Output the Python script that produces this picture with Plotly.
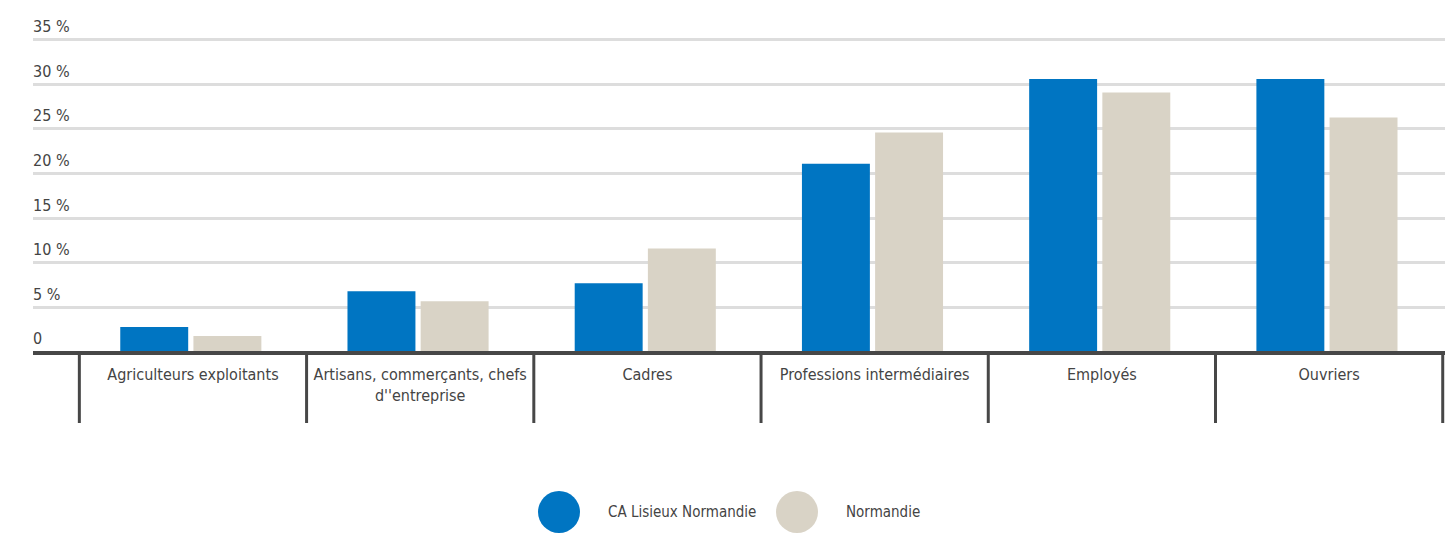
import plotly.graph_objects as go

categories = ["Agriculteurs exploitants", "Artisans, commerçants, chefs<br>d''entreprise", "Cadres",
              "Professions intermédiaires", "Employés", "Ouvriers"]
series_names = ["CA Lisieux Normandie", "Normandie"]
lisieux = [2.8, 6.8, 7.7, 21.1, 30.6, 30.6]
normandie = [1.8, 5.7, 11.6, 24.6, 29.1, 26.3]
y_ticks = [0, 5, 10, 15, 20, 25, 30, 35]
y_tick_labels = ["0", "5 %", "10 %", "15 %", "20 %", "25 %", "30 %", "35 %"]

BLUE = "#0075C2"
BEIGE = "#D9D3C6"
TEXT = "#444444"
FONT = "Liberation Sans Narrow, DejaVu Sans Condensed, Arial Narrow, sans-serif"

Y_MAX = 38
BOTTOM_PX = 352
TOP = 13                      # plot area top (pixels)
PLOT_H = BOTTOM_PX - TOP
BAR_W = 0.299

x_idx = list(range(len(categories)))

fig = go.Figure()
fig.add_trace(go.Bar(x=x_idx, y=lisieux, name=series_names[0], width=BAR_W, offset=-0.32,
                     marker=dict(color=BLUE, line=dict(width=0)), showlegend=False))
fig.add_trace(go.Bar(x=x_idx, y=normandie, name=series_names[1], width=BAR_W, offset=0.002,
                     marker=dict(color=BEIGE, line=dict(width=0)), showlegend=False))

shapes = []
# category dividers below the axis
for i in range(len(categories) + 1):
    shapes.append(dict(type="line", xref="x", yref="paper", x0=i - 0.5, x1=i - 0.5,
                       y0=-3 / PLOT_H, y1=-(423 - BOTTOM_PX) / PLOT_H,
                       line=dict(color="#474747", width=3)))
# axis baseline
shapes.append(dict(type="line", xref="paper", yref="paper", x0=0, x1=1, y0=-1 / PLOT_H, y1=-1 / PLOT_H,
                   line=dict(color="#474747", width=4)))

# legend (circles + text)
legend_y = (BOTTOM_PX - 512) / PLOT_H
legend_items = [(series_names[0], BLUE, (559 - 33) / 1412), (series_names[1], BEIGE, (797 - 33) / 1412)]
annotations = []
for name, col, xc in legend_items:
    shapes.append(dict(type="circle", xref="paper", yref="paper", xsizemode="pixel", ysizemode="pixel",
                       xanchor=xc, yanchor=legend_y, x0=-21, x1=21, y0=-21, y1=21,
                       fillcolor=col, line=dict(width=0)))
    annotations.append(dict(xref="paper", yref="paper", x=xc, y=legend_y, xshift=47, text=name,
                            showarrow=False, xanchor="left", yanchor="middle",
                            font=dict(family=FONT, size=15, color=TEXT)))

fig.update_layout(
    width=1445, height=540,
    margin=dict(l=33, r=0, t=TOP, b=540 - BOTTOM_PX, pad=0),
    paper_bgcolor="white", plot_bgcolor="white",
    barmode="group",
    font=dict(family=FONT, size=16, color=TEXT),
    showlegend=False,
    shapes=shapes,
    annotations=annotations,
    xaxis=dict(
        range=[-0.704, 5.51],
        tickmode="array", tickvals=x_idx, ticktext=categories,
        showgrid=False, zeroline=False, showline=False, ticks="",
        tickfont=dict(family=FONT, size=16, color=TEXT),
        ticklabelstandoff=11,
        automargin=False,
    ),
    yaxis=dict(
        range=[0, Y_MAX],
        tickmode="array", tickvals=y_ticks, ticktext=y_tick_labels,
        ticklabelposition="inside top",
        ticklabelstandoff=-3,
        ticklabelshift=-2,
        showgrid=True, gridcolor="#DDDDDD", gridwidth=3,
        zeroline=False, showline=False, ticks="",
        tickfont=dict(family=FONT, size=16, color=TEXT),
        automargin=False,
    ),
)

fig.write_html("out.html", post_script="document.body.style.margin='0px';",
               config={"displayModeBar": False})
